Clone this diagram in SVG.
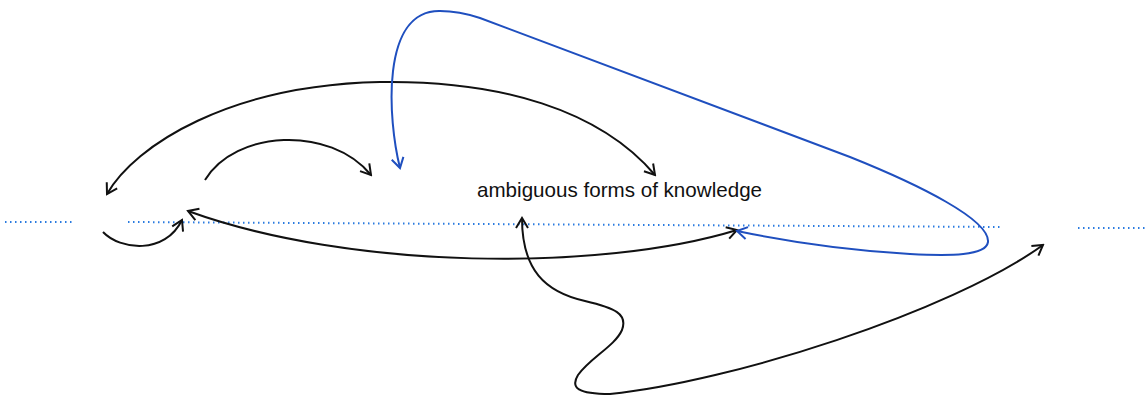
<svg xmlns="http://www.w3.org/2000/svg" width="1147" height="396" viewBox="0 0 1147 396">
<style>
.k{fill:none;stroke:#111;stroke-width:2}
.b{fill:none;stroke:#1f4fbf;stroke-width:2}
.dot{fill:none;stroke:#2a7be0;stroke-width:2;stroke-dasharray:1.5 3.5}
.lbl{font-family:"Liberation Sans",Arial,sans-serif;font-size:20.6px;fill:#111}
</style>
<defs>
<marker id="ak" viewBox="-12 -8 14 16" markerWidth="14" markerHeight="16" refX="0" refY="0" orient="auto-start-reverse" markerUnits="userSpaceOnUse"><path d="M-10,-6 L0,0 L-10,6" fill="none" stroke="#111" stroke-width="2"/></marker>
<marker id="ab" viewBox="-12 -8 14 16" markerWidth="14" markerHeight="16" refX="0" refY="0" orient="auto-start-reverse" markerUnits="userSpaceOnUse"><path d="M-10,-6 L0,0 L-10,6" fill="none" stroke="#1f4fbf" stroke-width="2"/></marker>
</defs>
<g id="baseline">
<line class="dot" x1="5" y1="222" x2="74" y2="222"/>
<line class="dot" x1="128" y1="222" x2="1002" y2="227"/>
<line class="dot" x1="1078" y1="228" x2="1147" y2="228"/>
</g>
<g id="label">
<text class="lbl" x="477" y="197">ambiguous forms of knowledge</text>
</g>
<g id="connectors">
<path class="k" d="M107,194 C 135,145 230,85 380,82 C 500,80 600,110 655,175" marker-start="url(#ak)" marker-end="url(#ak)"/>
<path class="k" d="M205,180 C 235,130 330,125 371,175" marker-end="url(#ak)"/>
<path class="k" d="M103,232 C 120,250 165,255 182,220" marker-end="url(#ak)"/>
<path class="k" d="M188,211 C 350,270 600,272 737,230" marker-start="url(#ak)" marker-end="url(#ak)"/>
<path class="b" d="M400,168 C 388,120 380,10 440,11 C 455,11 465,13 480,18 L 850,157 C 920,185 990,220 988,242 C 986,256 950,256 910,254 C 840,250 780,240 737,231" marker-start="url(#ab)" marker-end="url(#ab)"/>
<path class="k" d="M522,218 C 522,270 545,292 585,301 C 615,308 628,314 622,330 C 615,346 590,358 578,375 C 570,388 578,394 610,394 C 730,382 950,312 1043,245" marker-start="url(#ak)" marker-end="url(#ak)"/>
</g>
</svg>
